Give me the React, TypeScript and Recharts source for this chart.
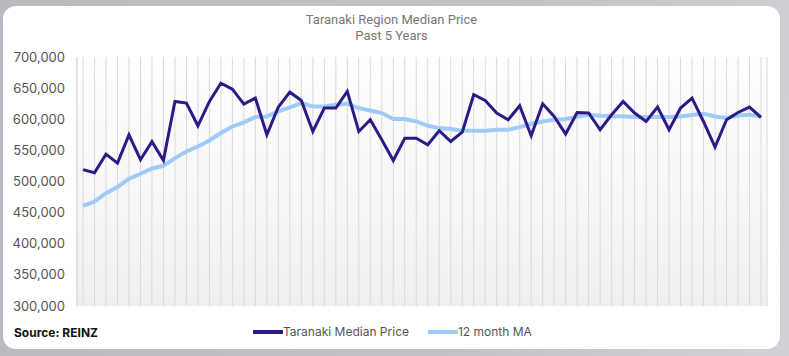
import React from 'react';
import { LineChart, Line, XAxis, YAxis, CartesianGrid } from 'recharts';

const months = [
  'Aug-19', 'Sep-19', 'Oct-19', 'Nov-19', 'Dec-19', 'Jan-20', 'Feb-20', 'Mar-20', 'Apr-20', 'May-20',
  'Jun-20', 'Jul-20', 'Aug-20', 'Sep-20', 'Oct-20', 'Nov-20', 'Dec-20', 'Jan-21', 'Feb-21', 'Mar-21',
  'Apr-21', 'May-21', 'Jun-21', 'Jul-21', 'Aug-21', 'Sep-21', 'Oct-21', 'Nov-21', 'Dec-21', 'Jan-22',
  'Feb-22', 'Mar-22', 'Apr-22', 'May-22', 'Jun-22', 'Jul-22', 'Aug-22', 'Sep-22', 'Oct-22', 'Nov-22',
  'Dec-22', 'Jan-23', 'Feb-23', 'Mar-23', 'Apr-23', 'May-23', 'Jun-23', 'Jul-23', 'Aug-23', 'Sep-23',
  'Oct-23', 'Nov-23', 'Dec-23', 'Jan-24', 'Feb-24', 'Mar-24', 'Apr-24', 'May-24', 'Jun-24', 'Jul-24',
];

const medianPrice = [
  519000, 514000, 544000, 529500, 575000, 535000, 564000, 534000, 628600, 626000,
  589500, 628600, 658000, 648500, 624400, 634000, 575000, 619600, 643500, 630200,
  580400, 618000, 618000, 644700, 580400, 599200, 567000, 533800, 569400, 569400,
  559000, 581500, 564300, 579400, 639400, 630200, 610000, 599200, 621700, 573500,
  624900, 604500, 576200, 610900, 610000, 583100, 607200, 628600, 610000, 596400,
  619600, 583100, 618000, 634000, 596000, 555300, 599200, 610900, 619600, 602900,
];

const movingAverage = [
  460900, 467800, 481300, 491000, 504300, 512400, 520900, 525200, 537600, 548200,
  556200, 565900, 577800, 588400, 594900, 603500, 604500, 612500, 619000, 626000,
  620600, 620600, 623300, 624900, 618000, 614100, 610000, 600300, 600300, 596400,
  589500, 585800, 584200, 581500, 581500, 581500, 583100, 583100, 587400, 592700,
  596400, 599200, 600300, 604000, 607200, 605600, 605000, 605000, 603500, 603500,
  603500, 603500, 604500, 606700, 608800, 604500, 601900, 606100, 607200, 604500,
];

const yTicks = [300000, 350000, 400000, 450000, 500000, 550000, 600000, 650000, 700000];

const seriesNames = ['Taranaki Median Price', '12 month MA'];
const seriesColors = ['#2e1a87', '#9ecbf8'];

const data = months.map((m, i) => ({ month: m, median: medianPrice[i], ma: movingAverage[i] }));

const fmt = (v: number) => v.toLocaleString('en-US');

const EmptyTick = () => <g />;

export default function App() {
  return (
    <div
      style={{
        position: 'absolute',
        left: 0,
        top: 0,
        width: 789,
        height: 356,
        overflow: 'hidden',
        background: 'linear-gradient(100deg, #bcb8c0 0%, #c4c1c8 60%, #d2d0d5 100%)',
      }}
    >
      <div
        style={{
          position: 'absolute',
          left: 3,
          top: 6,
          width: 777,
          height: 343,
          background: '#ffffff',
          borderRadius: 13,
        }}
      />
      <div
        style={{
          position: 'absolute',
          left: 3,
          top: 12,
          width: 777,
          textAlign: 'center',
          fontFamily: 'Roboto, sans-serif',
          fontSize: 13,
          lineHeight: '16px',
          color: '#777',
        }}
      >
        <div>Taranaki Region Median Price</div>
        <div>Past 5 Years</div>
      </div>
      <div
        style={{
          position: 'absolute',
          left: 14,
          top: 325,
          fontFamily: 'Inter, sans-serif',
          fontSize: 12,
          fontWeight: 700,
          color: '#111',
        }}
      >
        Source: REINZ
      </div>
      <div
        style={{
          position: 'absolute',
          left: 253,
          top: 324,
          display: 'flex',
          alignItems: 'center',
          fontFamily: 'Inter, sans-serif',
          fontSize: 12,
          color: '#555',
        }}
      >
        {seriesNames.map((n, i) => (
          <div key={n} style={{ display: 'flex', alignItems: 'center', marginRight: i === 0 ? 19 : 0 }}>
            <div style={{ width: 30, height: 4, background: seriesColors[i] }} />
            <span>{n}</span>
          </div>
        ))}
      </div>
      <div style={{ position: 'absolute', left: 0, top: 0 }}>
        <LineChart width={789} height={356} data={data} margin={{ top: 57, right: 22, bottom: 50, left: 0 }}>
          <defs>
            <linearGradient id="plotBg" x1="0" y1="0" x2="0" y2="1">
              <stop offset="0%" stopColor="#ffffff" />
              <stop offset="100%" stopColor="#efefef" />
            </linearGradient>
          </defs>
          <CartesianGrid horizontal={false} vertical={true} stroke="#dadada" fill="url(#plotBg)" />
          <XAxis
            dataKey="month"
            interval={0}
            tick={EmptyTick}
            tickLine={false}
            padding={{ left: 6, right: 6 }}
            axisLine={{ stroke: '#dadada' }}
            height={0}
          />
          <YAxis
            width={77}
            domain={[300000, 700000]}
            ticks={yTicks}
            tickFormatter={fmt}
            tickLine={false}
            tickSize={0}
            tickMargin={12}
            axisLine={{ stroke: '#dadada' }}
            tick={{ fontFamily: 'Inter, sans-serif', fontSize: 13, fill: '#555' }}
          />
          <Line
            type="linear"
            dataKey="ma"
            name={seriesNames[1]}
            stroke={seriesColors[1]}
            strokeWidth={4}
            dot={false}
            isAnimationActive={false}
          />
          <Line
            type="linear"
            dataKey="median"
            name={seriesNames[0]}
            stroke={seriesColors[0]}
            strokeWidth={3}
            dot={false}
            isAnimationActive={false}
          />
        </LineChart>
      </div>
    </div>
  );
}
